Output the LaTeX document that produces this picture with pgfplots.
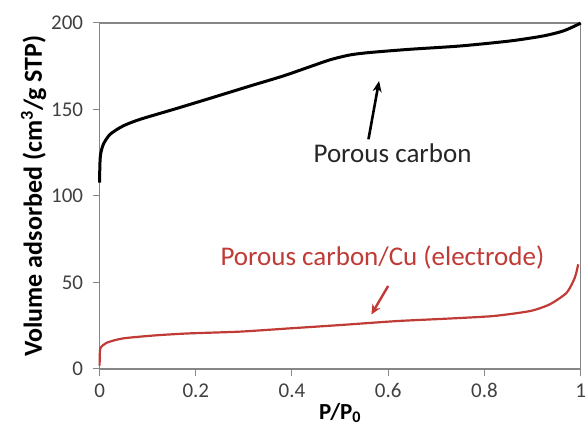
\documentclass[border=0pt]{standalone}
\usepackage{pgfplots}
\pgfplotsset{compat=1.18}
\usepackage{fontspec}
\setmainfont{Carlito}
\usetikzlibrary{arrows.meta}
\definecolor{cured}{RGB}{192,58,54}
\definecolor{axgray}{RGB}{134,134,134}
\definecolor{ticktext}{RGB}{64,64,64}
\begin{document}
\begin{tikzpicture}
\begin{axis}[
  scale only axis,
  width=481pt, height=346pt,
  xmin=0, xmax=1, ymin=0, ymax=200,
  xtick={0,0.2,0.4,0.6,0.8,1},
  ytick={0,50,100,150,200},
  xticklabels={0,0.2,0.4,0.6,0.8,1},
  tick align=outside,
  major tick length=7pt,
  tick style={axgray, line width=1pt},
  axis line style={axgray, line width=1.1pt},
  xtick pos=bottom, ytick pos=left,
  /pgf/number format/assume math mode=true,
  ticklabel style={font=\fontsize{21}{25}\selectfont, text=ticktext},
  yticklabel style={xshift=-6pt},
  xticklabel style={yshift=-4pt},
  xlabel={\textbf{P/P\textsubscript{0}}},
  ylabel={\textbf{Volume adsorbed (cm\textsuperscript{3}/g STP)}},
  xlabel style={font=\fontsize{23}{27}\selectfont, yshift=2pt},
  ylabel style={font=\fontsize{26}{30}\selectfont, yshift=-2pt},
  clip=false,
]
\draw[axgray, line width=1.1pt] (rel axis cs:0,0) rectangle (rel axis cs:1,1);
\addplot[black, line width=3pt, smooth, tension=0.45] coordinates {
 (0,107.7) (0.0005,117) (0.002,124) (0.008,130) (0.022,135.7) (0.049,140.5)
 (0.084,144.3) (0.153,150) (0.223,155.9) (0.313,163.6) (0.382,169.4)
 (0.440,175.0) (0.480,178.8) (0.520,181.5) (0.560,182.9) (0.645,184.8) (0.749,186.7)
 (0.853,189.6) (0.922,192.5) (0.964,195.4) (0.995,199.2) (1,200)
};
\addplot[cured, line width=2.2pt, smooth, tension=0.4] coordinates {
 (0,2) (0.0005,9) (0.002,12.3) (0.015,15.2) (0.049,17.7) (0.119,19.5)
 (0.188,20.6) (0.292,21.6) (0.396,23.5) (0.5,25.4) (0.618,27.7)
 (0.722,29.1) (0.818,30.6) (0.895,33.5) (0.936,37.4) (0.971,44.1)
 (0.988,52.8) (0.995,60.5)
};
\draw[black, line width=2.6pt, -{Stealth[length=11pt,width=9pt]}] (axis cs:0.559,132.8) -- (axis cs:0.581,166.5);
\draw[cured, line width=2.4pt, -{Stealth[length=10pt,width=9pt]}] (axis cs:0.600,48) -- (axis cs:0.565,31.5);
\node[font=\fontsize{27}{32}\selectfont, text=black!85] at (axis cs:0.609,124.9) {Porous carbon};
\node[font=\fontsize{27}{32}\selectfont, text=cured] at (axis cs:0.588,64.3) {Porous carbon/Cu (electrode)};
\end{axis}
\pgfresetboundingbox
\path (-99.6pt,-67pt) rectangle (487.4pt,369pt);
\end{tikzpicture}
\end{document}
